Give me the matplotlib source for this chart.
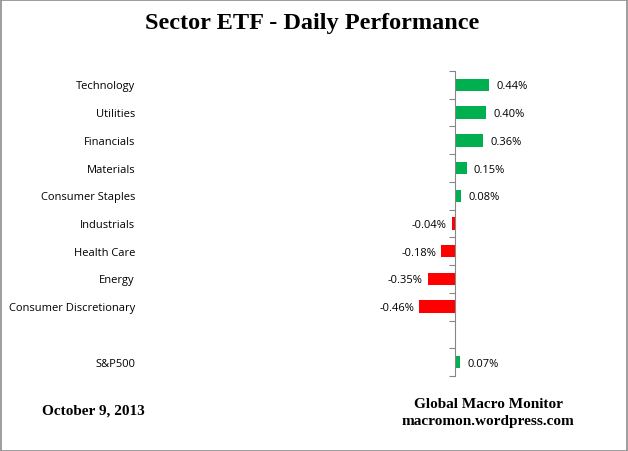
import numpy as np
import matplotlib.pyplot as plt
from matplotlib.patches import Rectangle

# sector daily moves in percent, top to bottom
sectors = ['Technology', 'Utilities', 'Financials', 'Materials', 'Consumer Staples',
           'Industrials', 'Health Care', 'Energy', 'Consumer Discretionary', '', 'S&P500']
perf = [0.44, 0.40, 0.36, 0.15, 0.08, -0.04, -0.18, -0.35, -0.46, np.nan, 0.07]

W, H = 628, 452
fig = plt.figure(figsize=(W / 100, H / 100), dpi=100)

# axes placed in pixel terms: zero line at x=455, about 78 px per 1%
left_px, right_px, top_px, bot_px = 140, 600, 72, 377
zero_px, scale = 455, 78.0
ax = fig.add_axes([left_px / W, 1 - bot_px / H, (right_px - left_px) / W, (bot_px - top_px) / H])
ax.set_xlim(-(zero_px - left_px) / scale, (right_px - zero_px) / scale)

y = np.arange(len(sectors))
ax.set_ylim(len(sectors) - 0.5, -0.5)

colors = ['#00B050' if v > 0 else '#FF0000' for v in np.nan_to_num(perf)]
ax.barh(y, np.nan_to_num(perf), height=0.45, color=colors)

for yi, name, v in zip(y, sectors, perf):
    ax.annotate(name, xy=(0, yi), xycoords=('axes fraction', 'data'),
                xytext=(-5, -1), textcoords='offset pixels',
                ha='right', va='center', fontsize=8, family='Open Sans')
    if np.isnan(v):
        continue
    if v > 0:
        ax.annotate('%.2f%%' % v, xy=(v, yi), xytext=(7, -1), textcoords='offset pixels',
                    ha='left', va='center', fontsize=8, family='Open Sans')
    else:
        ax.annotate('%.2f%%' % v, xy=(v, yi), xytext=(-5, -1), textcoords='offset pixels',
                    ha='right', va='center', fontsize=8, family='Open Sans')

for s in ['top', 'right', 'bottom']:
    ax.spines[s].set_visible(False)
ax.spines['left'].set_position(('data', 0))
ax.spines['left'].set_color('#868686')
ax.set_xticks([])
ax.set_yticks(np.arange(-0.5, len(sectors), 1.0))
ax.set_yticklabels([])
ax.tick_params(axis='y', direction='out', length=4, color='#868686')

fig.text(312 / W, 1 - 23 / H, 'Sector ETF - Daily Performance', ha='center', va='center',
         fontsize=17.5, fontweight='bold', family='Liberation Serif')
fig.text(42 / W, 1 - 411 / H, 'October 9, 2013', ha='left', va='center',
         fontsize=11, fontweight='bold', family='Liberation Serif')
fig.text(488 / W, 1 - 405 / H, 'Global Macro Monitor', ha='center', va='center',
         fontsize=11, fontweight='bold', family='Liberation Serif')
fig.text(488 / W, 1 - 422 / H, 'macromon.wordpress.com', ha='center', va='center',
         fontsize=11, fontweight='bold', family='Liberation Serif')

# outer chart border
fig.patches.append(Rectangle((0.5 / W, 0.5 / H), 1 - 1.5 / W, 1 - 1.5 / H, transform=fig.transFigure,
                             fill=False, edgecolor='#8c8c8c', linewidth=1.2))

fig.savefig('out.png', dpi=100)
